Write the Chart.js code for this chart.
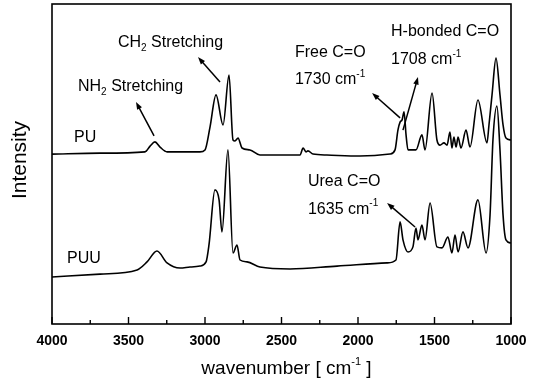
<!DOCTYPE html>
<html>
<head>
<meta charset="utf-8">
<script src="https://cdn.jsdelivr.net/npm/chart.js@4.4.0/dist/chart.umd.min.js"></script>
<style>
html, body { margin: 0; padding: 0; background: #fff; }
</style>
</head>
<body>
<canvas id="chart" width="540" height="382"></canvas>
<script>
// 数据
const puWavenumber = [4000, 3686, 3392, 3359, 3327, 3294, 3248, 3033, 3000, 2967, 2928, 2882, 2843, 2817, 2804, 2784, 2758, 2706, 2641,
    2379, 2359, 2340, 2327, 2294, 2203, 1987, 1791, 1758, 1739, 1725, 1712, 1699, 1686, 1673, 1621, 1582, 1562, 1516, 1484,
    1464, 1438, 1418, 1399, 1386, 1373, 1359, 1346, 1327, 1294, 1268, 1216, 1157, 1144, 1124, 1098, 1072, 1052, 1033, 1000];
const puIntensity = [53.1, 53.4, 53.8, 55.6, 56.9, 55.3, 53.8, 53.8, 54.4, 61.6, 71.6, 62.2, 77.8, 57.5, 57.2, 58.1, 55.0, 54.4, 52.8,
    52.8, 55.0, 53.8, 54.1, 53.1, 52.8, 52.5, 53.1, 54.4, 60.6, 63.1, 63.8, 66.3, 59.1, 54.4, 54.4, 59.1, 54.4, 72.2, 57.5,
    55.9, 56.6, 55.9, 60.0, 55.0, 58.4, 55.3, 58.4, 55.0, 60.6, 55.3, 70.0, 56.6, 62.2, 71.6, 83.1, 71.6, 62.2, 58.1, 57.5];

const puuWavenumber = [4000, 3686, 3444, 3379, 3314, 3248, 3163, 3098, 3033, 2993, 2974, 2935, 2908, 2889, 2850, 2817, 2791, 2771,
    2725, 2641, 2444, 2137, 1810, 1752, 1725, 1706, 1673, 1641, 1621, 1608, 1582, 1562, 1529, 1484, 1451, 1412, 1386, 1366,
    1346, 1314, 1281, 1216, 1163, 1137, 1118, 1092, 1072, 1052, 1033, 1000];
const puuIntensity = [14.7, 15.6, 16.9, 19.4, 22.8, 19.1, 17.5, 17.8, 18.1, 19.4, 24.7, 41.9, 38.8, 28.8, 54.4, 22.2, 24.7, 20.0,
    19.4, 17.8, 17.2, 18.1, 19.1, 20.0, 31.9, 26.3, 22.5, 24.1, 30.0, 26.3, 30.9, 26.3, 37.8, 24.1, 23.8, 27.2, 22.2, 27.8,
    22.5, 28.8, 23.8, 38.8, 22.2, 34.1, 57.5, 68.1, 54.4, 34.1, 26.3, 25.3];

const xTicks = [4000, 3500, 3000, 2500, 2000, 1500, 1000];

// 标注 (数据坐标)
const FONT = '"Liberation Sans", Arial, sans-serif';
const notes = [
    { wn: 3569, y: 87.8, parts: [['CH'], ['2', 'sub'], [' Stretching']] },
    { wn: 3830, y: 74.1, parts: [['NH'], ['2', 'sub'], [' Stretching']] },
    { wn: 3856, y: 58.4, parts: [['PU']] },
    { wn: 3902, y: 20.3, parts: [['PUU']] },
    { wn: 2412, y: 84.7, parts: [['Free C=O']] },
    { wn: 2412, y: 76.3, parts: [['1730 cm'], ['-1', 'sup']] },
    { wn: 1784, y: 91.3, parts: [['H-bonded C=O']] },
    { wn: 1784, y: 82.5, parts: [['1708 cm'], ['-1', 'sup']] },
    { wn: 2327, y: 44.4, parts: [['Urea C=O']] },
    { wn: 2327, y: 35.9, parts: [['1635 cm'], ['-1', 'sup']] }
];
const arrows = [
    { from: [2902, 75.6], to: [3046, 83.4] },
    { from: [3333, 58.8], to: [3451, 69.4] },
    { from: [1725, 64.4], to: [1908, 72.2] },
    { from: [1706, 60.6], to: [1608, 77.2] },
    { from: [1627, 30.3], to: [1810, 37.8] }
];

// 富文本 (上标/下标)
function drawRich(ctx, x, y, parts) {
    let cx = x;
    parts.forEach(p => {
        let dy = 0;
        if (p[1] === 'sub') { ctx.font = '10px ' + FONT; dy = 5; }
        else if (p[1] === 'sup') { ctx.font = '10px ' + FONT; dy = -6; }
        else { ctx.font = '16px ' + FONT; }
        ctx.fillText(p[0], cx, y + dy);
        cx += ctx.measureText(p[0]).width;
    });
}

function drawArrow(ctx, x1, y1, x2, y2) {
    const ang = Math.atan2(y2 - y1, x2 - x1);
    const len = 8;
    ctx.beginPath();
    ctx.moveTo(x1, y1);
    ctx.lineTo(x2 - Math.cos(ang) * len * 0.7, y2 - Math.sin(ang) * len * 0.7);
    ctx.stroke();
    ctx.beginPath();
    ctx.moveTo(x2, y2);
    ctx.lineTo(x2 - len * Math.cos(ang - 0.35), y2 - len * Math.sin(ang - 0.35));
    ctx.lineTo(x2 - len * Math.cos(ang + 0.35), y2 - len * Math.sin(ang + 0.35));
    ctx.closePath();
    ctx.fill();
}

const framePlugin = {
    id: 'frame',
    afterDraw(chart) {
        const ctx = chart.ctx;
        const a = chart.chartArea;
        const xs = chart.scales.x;
        const ys = chart.scales.y;
        ctx.save();
        ctx.strokeStyle = '#000';
        ctx.fillStyle = '#000';
        ctx.lineWidth = 1.6;
        ctx.strokeRect(a.left, a.top, a.right - a.left, a.bottom - a.top);

        // 刻度线 (朝内)
        ctx.lineWidth = 1.4;
        for (let v = 1000; v <= 4000; v += 250) {
            const px = xs.getPixelForValue(v);
            const l = v % 500 === 0 ? 7 : 4;
            ctx.beginPath();
            ctx.moveTo(px, a.bottom);
            ctx.lineTo(px, a.bottom - l);
            ctx.stroke();
        }

        // 标注文字
        ctx.textBaseline = 'middle';
        ctx.textAlign = 'left';
        notes.forEach(n => {
            drawRich(ctx, xs.getPixelForValue(n.wn), ys.getPixelForValue(n.y), n.parts);
        });

        // 箭头
        ctx.lineWidth = 1.5;
        arrows.forEach(ar => {
            drawArrow(ctx, xs.getPixelForValue(ar.from[0]), ys.getPixelForValue(ar.from[1]),
                xs.getPixelForValue(ar.to[0]), ys.getPixelForValue(ar.to[1]));
        });

        // 坐标轴标题
        const tx = (a.left + a.right) / 2 + 5;
        const ty = 369;
        const main = 'wavenumber [ cm';
        const sup = '-1';
        const tail = ' ]';
        ctx.font = '19px ' + FONT;
        const w1 = ctx.measureText(main).width;
        const w3 = ctx.measureText(tail).width;
        ctx.font = '11px ' + FONT;
        const w2 = ctx.measureText(sup).width;
        let sx = tx - (w1 + w2 + w3) / 2;
        ctx.textAlign = 'left';
        ctx.font = '19px ' + FONT;
        ctx.fillText(main, sx, ty);
        ctx.font = '11px ' + FONT;
        ctx.fillText(sup, sx + w1, ty - 7);
        ctx.font = '19px ' + FONT;
        ctx.fillText(tail, sx + w1 + w2, ty);

        ctx.translate(20, 160);
        ctx.rotate(-Math.PI / 2);
        ctx.textAlign = 'center';
        ctx.font = '21px ' + FONT;
        ctx.fillText('Intensity', 0, 0);
        ctx.restore();
    }
};

function toPoints(xs, ys) {
    return xs.map((x, i) => ({ x: x, y: ys[i] }));
}

const lineStyle = {
    borderColor: '#000',
    borderWidth: 1.6,
    pointRadius: 0,
    fill: false,
    cubicInterpolationMode: 'monotone'
};

new Chart(document.getElementById('chart').getContext('2d'), {
    type: 'line',
    data: {
        datasets: [
            Object.assign({ label: 'PU', data: toPoints(puWavenumber, puIntensity) }, lineStyle),
            Object.assign({ label: 'PUU', data: toPoints(puuWavenumber, puuIntensity) }, lineStyle)
        ]
    },
    options: {
        responsive: false,
        devicePixelRatio: 1,
        animation: false,
        layout: { padding: { top: 4, right: 29, left: 0, bottom: 0 } },
        plugins: {
            legend: { display: false },
            tooltip: { enabled: false }
        },
        scales: {
            x: {
                type: 'linear',
                min: 1000,
                max: 4000,
                reverse: true,
                afterBuildTicks: s => { s.ticks = xTicks.map(v => ({ value: v })); },
                afterFit: s => { s.height = 58; },
                grid: { display: false, drawTicks: false },
                border: { display: false },
                ticks: {
                    color: '#000',
                    padding: 9,
                    font: { family: FONT, size: 14, weight: 'bold' },
                    callback: v => String(v)
                }
            },
            y: {
                min: 0,
                max: 100,
                afterFit: s => { s.width = 52; },
                grid: { display: false, drawTicks: false },
                border: { display: false },
                ticks: { display: false }
            }
        }
    },
    plugins: [framePlugin]
});
</script>
</body>
</html>
